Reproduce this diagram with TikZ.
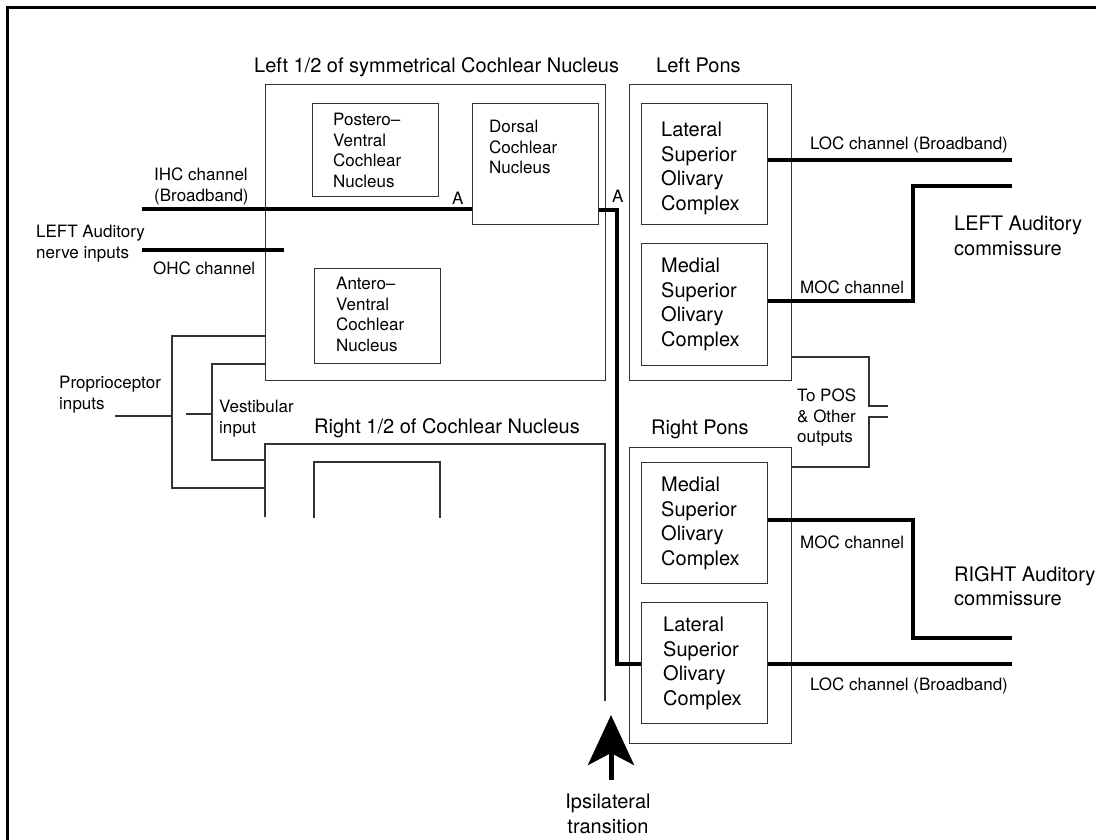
\documentclass[tikz,border=0pt]{standalone}
\usepackage{fontspec}
\setmainfont{TeX Gyre Heros}
\usetikzlibrary{arrows.meta, positioning, calc}

\begin{document}
\begin{tikzpicture}[x=1pt, y=-1pt,
    box/.style={rectangle, draw=black!80, line width=1.3pt, anchor=north west, inner sep=0pt},
    wire/.style={draw=black!80, line width=1.3pt},
    chan/.style={draw=black, line width=4pt},
    small/.style={font=\fontsize{17}{20.5}\selectfont, inner sep=0pt, anchor=north west, align=left},
    big/.style={font=\fontsize{20}{24.5}\selectfont, inner sep=0pt, anchor=north west, align=left},
    title/.style={font=\fontsize{20}{24.5}\selectfont, inner sep=0pt, anchor=base west}]

    \useasboundingbox (0,0) rectangle (1096,840);

    % frame (left and top only)
    \draw[line width=3pt] (7.5,840) -- (7.5,7.5) -- (1096,7.5);

    % titles
    \node[title] (lcntitle) at (254,73) {Left 1/2 of symmetrical Cochlear Nucleus};
    \node[title] (lponstitle) at (656,73) {Left Pons};
    \node[title] (rcntitle) at (314,433) {Right 1/2 of Cochlear Nucleus};
    \node[title] (rponstitle) at (651,434) {Right Pons};

    % left cochlear nucleus
    \node (lcn) [box, minimum width=340pt, minimum height=296pt] at (265,84) {};
    \node (pvcn) [box, minimum width=126pt, minimum height=93pt] at (312,103) {};
    \node (dcn) [box, minimum width=126pt, minimum height=121pt] at (472,103) {};
    \node (avcn) [box, minimum width=126pt, minimum height=95pt] at (314,268) {};
    \node[small] (pvcntext) at (333,113) {Postero–\\Ventral\\Cochlear\\Nucleus};
    \node[small] (dcntext) at (489,120) {Dorsal\\Cochlear\\Nucleus};
    \node[small] (avcntext) at (336,277) {Antero–\\Ventral\\Cochlear\\Nucleus};

    % right cochlear nucleus (cut off)
    \coordinate (rcnSW) at (265,517);
    \coordinate (rcnNW) at (265,444);
    \coordinate (rcnNE) at (605,444);
    \coordinate (rcnE) at (605,701);
    \draw[wire] (rcnSW) -- (rcnNW) -- (rcnNE) -- (rcnE);
    \draw[wire] (314,518) -- (314,462) -- (440,462) -- (440,518);

    % pons
    \node (lpons) [box, minimum width=162pt, minimum height=296pt] at (629,84) {};
    \node (lsocL) [box, minimum width=126pt, minimum height=121pt] at (641,103) {};
    \node (msocL) [box, minimum width=126pt, minimum height=122pt] at (641,243) {};
    \node (rpons) [box, minimum width=162pt, minimum height=296pt] at (629,447) {};
    \node (msocR) [box, minimum width=126pt, minimum height=121pt] at (641,462) {};
    \node (lsocR) [box, minimum width=126pt, minimum height=121pt] at (641,602) {};
    \node[big] (lsocLtext) at (661,122) {Lateral\\Superior\\Olivary\\Complex};
    \node[big] (msocLtext) at (661,258) {Medial\\Superior\\Olivary\\Complex};
    \node[big] (msocRtext) at (661,477) {Medial\\Superior\\Olivary\\Complex};
    \node[big] (lsocRtext) at (663,617) {Lateral\\Superior\\Olivary\\Complex};

    % auditory nerve inputs
    \coordinate (ihcin) at (142,209);
    \coordinate (ohcin) at (142,250);
    \coordinate (ohcend) at (284,250);
    \draw[chan] (ihcin) -- (dcn.west |- ihcin);
    \draw[chan] (ohcin) -- (ohcend);
    \node[small] (ihclbl) at (154,168) {IHC channel\\(Broadband)};
    \node[small] (nervelbl) at (36,225) {LEFT Auditory\\nerve inputs};
    \node[small] (ohclbl) at (153,262) {OHC channel};
    \node[small] (aone) at (452,192) {A};
    \node[small] (atwo) at (612,190) {A};

    % ipsilateral channel
    \coordinate (ipsiT) at (617,210);
    \coordinate (ipsiB) at (617,664);
    \draw[chan] (dcn.east |- ipsiT) -- (ipsiT) -- (ipsiB) -- (lsocR.west |- ipsiB);

    % outputs
    \coordinate (locL) at (1012,160);
    \coordinate (mocLbend) at (913,301);
    \coordinate (mocL) at (1012,186);
    \coordinate (mocRbend) at (913,520);
    \coordinate (mocR) at (1012,638);
    \coordinate (locR) at (1012,664);
    \draw[chan] (lsocL.east |- locL) -- (locL);
    \draw[chan] (msocL.east |- mocLbend) -- (mocLbend) |- (mocL);
    \draw[chan] (msocR.east |- mocRbend) -- (mocRbend) |- (mocR);
    \draw[chan] (lsocR.east |- locR) -- (locR);
    \node[small] (loclblL) at (810,137) {LOC channel (Broadband)};
    \node[small] (moclblL) at (800,281) {MOC channel};
    \node[big] (leftcom) at (954,216) {LEFT Auditory\\commissure};
    \node[small] (moclblR) at (800,536) {MOC channel};
    \node[big] (rightcom) at (954,566) {RIGHT Auditory\\commissure};
    \node[small] (loclblR) at (810,678) {LOC channel (Broadband)};

    % to POS
    \coordinate (posA) at (869,357);
    \coordinate (posAend) at (888,406);
    \coordinate (posB) at (869,467);
    \coordinate (posBend) at (888,417);
    \draw[wire] (lpons.east |- posA) -- (posA) |- (posAend);
    \draw[wire] (rpons.east |- posB) -- (posB) |- (posBend);
    \node[small] (poslbl) at (797,389) {To POS\\\& Other\\outputs};

    % proprioceptor and vestibular inputs
    \coordinate (propin) at (115,416);
    \coordinate (propT) at (172,336);
    \coordinate (propB) at (172,488);
    \coordinate (vestin) at (186,414);
    \coordinate (vestT) at (212,364);
    \coordinate (vestB) at (212,460);
    \draw[wire] (propin) -- (propin -| propT);
    \draw[wire] (lcn.west |- propT) -- (propT) -- (propB) -- (rcnSW |- propB);
    \draw[wire] (vestin) -- (vestin -| vestT);
    \draw[wire] (lcn.west |- vestT) -- (vestT) -- (vestB) -- (rcnSW |- vestB);
    \node[small] (proplbl) at (59,376) {Proprioceptor\\inputs};
    \node[small] (vestlbl) at (219,400) {Vestibular\\input};

    % ipsilateral transition arrow
    \coordinate (ipsibase) at (611,780);
    \coordinate (ipsitip) at (611,715);
    \draw[line width=5pt, -{Stealth[length=50pt, width=46pt, inset=12pt]}] (ipsibase) -- (ipsitip);
    \node[big, anchor=north, align=center] (ipsilbl) at (608,794) {Ipsilateral\\transition};
\end{tikzpicture}
\end{document}
